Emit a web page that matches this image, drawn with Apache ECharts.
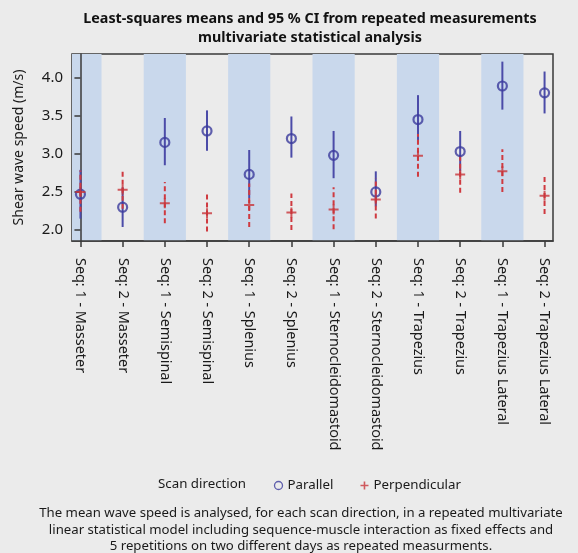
<!DOCTYPE html>
<html><head><meta charset="utf-8">
<script src="https://cdn.jsdelivr.net/npm/echarts@6/dist/echarts.min.js"></script>
<style>html,body{margin:0;padding:0;background:#ebebeb;}#c{width:578px;height:553px;}</style>
</head><body><div id="c"></div>
<script>
const categories = ["Seq: 1 - Masseter","Seq: 2 - Masseter","Seq: 1 - Semispinal","Seq: 2 - Semispinal","Seq: 1 - Splenius","Seq: 2 - Splenius","Seq: 1 - Sternocleidomastoid","Seq: 2 - Sternocleidomastoid","Seq: 1 - Trapezius","Seq: 2 - Trapezius","Seq: 1 - Trapezius Lateral","Seq: 2 - Trapezius Lateral"];
const parallelMean = [2.47,2.30,3.15,3.30,2.73,3.20,2.98,2.50,3.45,3.03,3.89,3.80];
const parallelLow  = [2.15,2.04,2.85,3.04,2.42,2.95,2.68,2.31,3.14,2.77,3.58,3.53];
const parallelHigh = [2.79,2.56,3.47,3.57,3.05,3.49,3.30,2.77,3.77,3.30,4.21,4.08];
const perpMean = [2.50,2.53,2.35,2.22,2.33,2.23,2.27,2.40,2.975,2.73,2.77,2.45];
const perpLow  = [2.24,2.28,2.09,1.98,2.04,2.00,2.01,2.15,2.70,2.49,2.50,2.21];
const perpHigh = [2.78,2.78,2.63,2.47,2.61,2.48,2.56,2.68,3.26,2.98,3.06,2.70];
const yTicks = [2.0,2.5,3.0,3.5,4.0];
const shadedIdx = [0,2,4,6,8,10];

const X_MIN=-0.2, X_MAX=11.2, Y_MIN=1.856, Y_MAX=4.31;
const idx = categories.map((_,i)=>i);
const chart = echarts.init(document.getElementById('c'));
const font = "'Noto Sans', sans-serif";

function bandItem(params, api){
  const i = api.value(0);
  const p1 = api.coord([Math.max(i-0.5,X_MIN), Y_MAX]);
  const p2 = api.coord([Math.min(i+0.5,X_MAX), Y_MIN]);
  return {type:'rect', shape:{x:p1[0],y:p1[1],width:p2[0]-p1[0],height:p2[1]-p1[1]}, style:{fill:'#c9d8ec'}};
}
function errItem(color, dash){
  return function(params, api){
    const a = api.coord([api.value(0), api.value(1)]);
    const b = api.coord([api.value(0), api.value(2)]);
    return {type:'line', shape:{x1:a[0],y1:a[1],x2:b[0],y2:b[1]}, style:{stroke:color, lineWidth:2, lineDash:dash}};
  };
}
const plusPath = 'path://M4,0h2v4h4v2h-4v4h-2v-4h-4v-2h4z';

chart.setOption({
  backgroundColor:'#ebebeb',
  animation:false,
  grid:{left:72,right:25,top:54,bottom:312,show:true,borderColor:'#3a3a3a',borderWidth:1.5,backgroundColor:'transparent'},
  xAxis:{type:'value',min:X_MIN,max:X_MAX,
    axisLine:{show:true,lineStyle:{color:'#3a3a3a',width:1.5}},
    splitLine:{show:false},
    axisTick:{show:true,customValues:idx,length:6,lineStyle:{color:'#3a3a3a',width:1.5}},
    axisLabel:{customValues:idx,rotate:-90,margin:17,fontSize:14.4,color:'#1a1a1a',fontFamily:font,
      formatter:v=>categories[Math.round(v)]}},
  yAxis:{type:'value',min:Y_MIN,max:Y_MAX,
    name:'Shear wave speed (m/s)',nameLocation:'middle',nameGap:46,
    nameTextStyle:{fontSize:14,color:'#1a1a1a',fontFamily:font},
    axisLine:{show:true,lineStyle:{color:'#3a3a3a',width:1.5}},
    splitLine:{show:false},
    axisTick:{show:true,customValues:yTicks,length:6,lineStyle:{color:'#3a3a3a',width:1.5}},
    axisLabel:{customValues:yTicks,margin:9,fontSize:15,color:'#1a1a1a',fontFamily:font,formatter:v=>v.toFixed(1)}},
  legend:{left:272,top:479,padding:0,itemGap:27,itemWidth:8,itemHeight:8,
    textStyle:{fontSize:13.3,color:'#1a1a1a',fontFamily:font},
    data:[{name:'Parallel',icon:'circle',itemStyle:{color:'none',borderColor:'#3b3b9c',borderWidth:1.3}},
          {name:'Perpendicular',icon:plusPath,itemStyle:{color:'#c8353a'}}]},
  graphic:[
    {type:'text',x:310,y:9,style:{text:'Least-squares means and 95 % CI from repeated measurements\nmultivariate statistical analysis',
      fontSize:14.3,fontWeight:'bold',fontFamily:font,fill:'#111',align:'center',lineHeight:19}},
    {type:'text',left:158,top:478,style:{text:'Scan direction',fontSize:13.3,fontFamily:font,fill:'#1a1a1a'}},
    {type:'text',x:301,y:505,style:{text:'The mean wave speed is analysed, for each scan direction, in a repeated multivariate\nlinear statistical model including sequence-muscle interaction as fixed effects and\n5 repetitions on two different days as repeated measurments.',
      fontSize:13.2,fontFamily:font,fill:'#1a1a1a',align:'center',lineHeight:16.6}}
  ],
  series:[
    {type:'custom',name:'bands',silent:true,renderItem:bandItem,data:shadedIdx.map(i=>[i]),z:0},
    {type:'custom',name:'Parallel CI',renderItem:errItem('#4b4ba8',null),data:idx.map(i=>[i,parallelLow[i],parallelHigh[i]]),z:2},
    {type:'custom',name:'Perpendicular CI',renderItem:errItem('#cf3a40',[5,3]),data:idx.map(i=>[i,perpLow[i],perpHigh[i]]),z:3},
    {type:'scatter',name:'Parallel',symbol:'circle',symbolSize:9,
      itemStyle:{color:'rgba(0,0,0,0)',borderColor:'#3b3b9c',borderWidth:2.2},
      data:idx.map(i=>[i,parallelMean[i]]),z:4},
    {type:'scatter',name:'Perpendicular',symbol:plusPath,symbolSize:10,
      itemStyle:{color:'#c8353a'},
      data:idx.map(i=>[i,perpMean[i]]),z:5}
  ]
});
</script></body></html>
